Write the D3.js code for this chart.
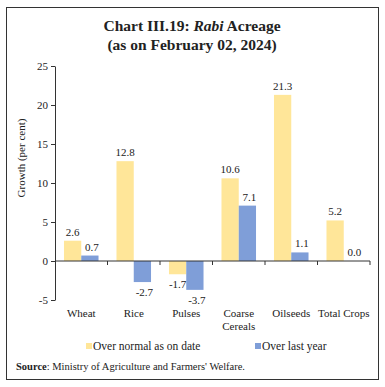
<!DOCTYPE html>
<html>
<head>
<meta charset="utf-8">
<script src="https://cdn.jsdelivr.net/npm/d3@7"></script>
<style>
  body { margin: 0; background: #fff; }
  svg text { font-family: "Liberation Serif", "DejaVu Serif", serif; fill: #222; }
</style>
</head>
<body>
<svg id="chart" width="385" height="387"></svg>
<script>
var categories = ["Wheat", "Rice", "Pulses", "Coarse Cereals", "Oilseeds", "Total Crops"];
var overNormal = [2.6, 12.8, -1.7, 10.6, 21.3, 5.2];
var overLastYear = [0.7, -2.7, -3.7, 7.1, 1.1, 0.0];
var seriesNames = ["Over normal as on date", "Over last year"];
var yTicks = [-5, 0, 5, 10, 15, 20, 25];
var colors = ["#FFE699", "#7F9ED8"];

var svg = d3.select("#chart");

// frame
svg.append("rect")
    .attr("x", 6.5).attr("y", 7.5)
    .attr("width", 372).attr("height", 372)
    .attr("fill", "none").attr("stroke", "#333").attr("stroke-width", 1);

// title
var title = svg.append("text")
    .attr("x", 192).attr("y", 31)
    .attr("text-anchor", "middle")
    .style("font-size", "15.5px").style("font-weight", "bold");
title.append("tspan").text("Chart III.19: ");
title.append("tspan").style("font-style", "italic").text("Rabi");
title.append("tspan").text(" Acreage");
svg.append("text")
    .attr("x", 192).attr("y", 50)
    .attr("text-anchor", "middle")
    .style("font-size", "15.5px").style("font-weight", "bold")
    .text("(as on February 02, 2024)");

var left = 55, right = 370;
var y = d3.scaleLinear().domain([-5, 25]).range([300, 66]);
var x0 = d3.scaleBand().domain(categories).range([left, right]).paddingInner(0).paddingOuter(0);
var x1 = d3.scaleBand().domain([0, 1]).range([0, x0.bandwidth()]).paddingOuter(0.52).paddingInner(0);

// y axis
var yAxis = svg.append("g")
    .attr("transform", "translate(" + left + ",0)")
    .call(d3.axisLeft(y).tickValues(yTicks).tickSize(4).tickSizeOuter(0)
        .tickFormat(function(d) { return String(d); }));
yAxis.select(".domain").attr("stroke", "#333");
yAxis.selectAll(".tick line").attr("stroke", "#333");
yAxis.selectAll("text").style("font-size", "11px").attr("fill", "#222");

// bars
var data = categories.map(function(c, i) {
    return { cat: c, vals: [overNormal[i], overLastYear[i]] };
});
var groups = svg.append("g").selectAll("g")
    .data(data).enter().append("g")
    .attr("transform", function(d) { return "translate(" + x0(d.cat) + ",0)"; });

groups.selectAll("rect")
    .data(function(d) { return d.vals.map(function(v, j) { return { v: v, j: j }; }); })
    .enter().append("rect")
    .attr("x", function(d) { return x1(d.j); })
    .attr("width", x1.bandwidth())
    .attr("y", function(d) { return y(Math.max(0, d.v)); })
    .attr("height", function(d) { return Math.abs(y(d.v) - y(0)); })
    .attr("fill", function(d) { return colors[d.j]; });

groups.selectAll("text.val")
    .data(function(d) { return d.vals.map(function(v, j) { return { v: v, j: j }; }); })
    .enter().append("text")
    .attr("class", "val")
    .attr("x", function(d) { return x1(d.j) + x1.bandwidth() / 2 + (d.j === 1 ? 2 : 0); })
    .attr("y", function(d) { return d.v >= 0 ? y(d.v) - 5 : y(d.v) + 14; })
    .attr("text-anchor", "middle")
    .style("font-size", "11px")
    .text(function(d) { return d.v.toFixed(1); });

// x axis at zero
var xAxis = svg.append("g")
    .attr("transform", "translate(0," + y(0) + ")");
xAxis.append("line")
    .attr("x1", left).attr("x2", right)
    .attr("stroke", "#333");
xAxis.selectAll("line.tick")
    .data(categories.map(function(c) { return x0(c) + x0.bandwidth(); }))
    .enter().append("line")
    .attr("class", "tick")
    .attr("x1", function(d) { return d; }).attr("x2", function(d) { return d; })
    .attr("y1", 0).attr("y2", 4)
    .attr("stroke", "#333");

// category labels
svg.append("g").selectAll("text")
    .data(categories).enter().append("text")
    .attr("x", function(d) { return x0(d) + x0.bandwidth() / 2; })
    .attr("y", 317)
    .attr("text-anchor", "middle")
    .style("font-size", "11px")
    .each(function(d) {
        var parts = d === "Coarse Cereals" ? ["Coarse", "Cereals"] : [d];
        var t = d3.select(this);
        parts.forEach(function(p, i) {
            t.append("tspan").attr("x", x0(d) + x0.bandwidth() / 2)
                .attr("dy", i === 0 ? 0 : 13).text(p);
        });
    });

// y axis label
svg.append("text")
    .attr("transform", "translate(25,158) rotate(-90)")
    .attr("text-anchor", "middle")
    .style("font-size", "11px")
    .text("Growth (per cent)");

// legend
var legendX = [86, 255];
seriesNames.forEach(function(n, i) {
    svg.append("rect")
        .attr("x", legendX[i]).attr("y", 343)
        .attr("width", 6).attr("height", 6)
        .attr("fill", colors[i]);
    svg.append("text")
        .attr("x", legendX[i] + 7).attr("y", 350)
        .style("font-size", "11.5px")
        .text(n);
});

// source
var src = svg.append("text")
    .attr("x", 16).attr("y", 370)
    .style("font-size", "10.5px");
src.append("tspan").style("font-weight", "bold").text("Source");
src.append("tspan").text(": Ministry of Agriculture and Farmers' Welfare.");
</script>
</body>
</html>
